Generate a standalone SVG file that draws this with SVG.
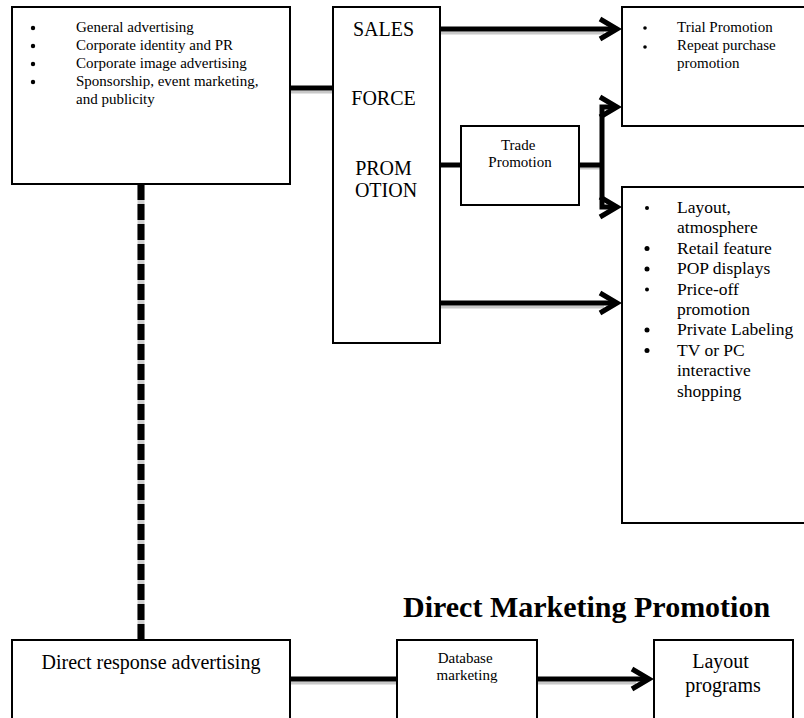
<svg xmlns="http://www.w3.org/2000/svg" width="804" height="718" viewBox="0 0 804 718">
  <style>
    .box { fill: #fff; stroke: #000; stroke-width: 2; }
    .t { font-family: "Liberation Serif", "Times New Roman", serif; fill: #000; }
    .conn { fill: none; stroke: #000; stroke-width: 5; }
    .shadow { fill: none; stroke: #c8c8c8; stroke-width: 3; }
    .bul { fill: #000; }
  </style>
  <defs>
    <marker id="chev" markerUnits="userSpaceOnUse" markerWidth="30" markerHeight="30" viewBox="-24 -15 30 30" refX="0" refY="0" orient="auto" overflow="visible">
      <path d="M-17,-10 L0,0 L-17,10" fill="none" stroke="#000" stroke-width="5" stroke-linejoin="miter"/>
    </marker>
  </defs>
  <rect width="804" height="718" fill="#fff"/>

  <g id="connectors">
    <!-- shadows -->
    <line class="shadow" x1="290" y1="92" x2="333" y2="92"/>
    <line class="shadow" x1="440" y1="33" x2="604" y2="33"/>
    <line class="shadow" x1="440" y1="307" x2="604" y2="307"/>
    <line class="shadow" x1="290" y1="683" x2="397" y2="683"/>
    <line class="shadow" x1="537" y1="683" x2="636" y2="683"/>
    <line class="shadow" x1="579" y1="168" x2="600" y2="168"/>
    <!-- top-left to sales force -->
    <line class="conn" x1="290" y1="88" x2="334" y2="88"/>
    <!-- sales arrow -->
    <line class="conn" x1="440" y1="29" x2="617" y2="29" marker-end="url(#chev)"/>
    <!-- bottom arrow -->
    <line class="conn" x1="440" y1="303" x2="617" y2="303" marker-end="url(#chev)"/>
    <!-- promotion to trade -->
    <line class="conn" x1="440" y1="165" x2="461" y2="165"/>
    <!-- trade to branch -->
    <line class="conn" x1="579" y1="165" x2="602" y2="165" stroke-width="3"/>
    <path class="conn" d="M602,165 L602,107 L617,107" stroke-width="4" marker-end="url(#chev)"/>
    <path class="conn" d="M602,165 L602,207 L617,207" stroke-width="4" marker-end="url(#chev)"/>
    <!-- dashed vertical -->
    <line x1="141" y1="184" x2="141" y2="640" stroke="#d0d0d0" stroke-width="7"/>
    <line x1="141" y1="184" x2="141" y2="640" stroke="#000" stroke-width="7" stroke-dasharray="16 4"/>
    <!-- bottom row -->
    <line class="conn" x1="290" y1="679" x2="397" y2="679"/>
    <line class="conn" x1="537" y1="679" x2="649" y2="679" marker-end="url(#chev)"/>
  </g>

  <g id="node-general">
    <rect class="box" x="12" y="7" width="278" height="177"/>
    <circle class="bul" cx="33" cy="28" r="2.2"/>
    <circle class="bul" cx="33" cy="46" r="2.2"/>
    <circle class="bul" cx="33" cy="64" r="2.2"/>
    <circle class="bul" cx="33" cy="82" r="2.2"/>
    <text class="t" font-size="15">
      <tspan x="76" y="32">General advertising</tspan>
      <tspan x="76" y="50">Corporate identity and PR</tspan>
      <tspan x="76" y="68">Corporate image advertising</tspan>
      <tspan x="76" y="86">Sponsorship, event marketing,</tspan>
      <tspan x="76" y="104">and publicity</tspan>
    </text>
  </g>

  <g id="node-salesforce">
    <rect class="box" x="333" y="7" width="107" height="336"/>
    <text class="t" font-size="20" text-anchor="middle">
      <tspan x="386" y="36">SALES</tspan>
      <tspan x="386" y="105">FORCE</tspan>
      <tspan x="386" y="175">PROM</tspan>
      <tspan x="386" y="197">OTION</tspan>
    </text>
  </g>

  <g id="node-trade">
    <rect class="box" x="461" y="126" width="118" height="79"/>
    <text class="t" font-size="15" text-anchor="middle">
      <tspan x="520" y="150">Trade</tspan>
      <tspan x="520" y="167">Promotion</tspan>
    </text>
  </g>

  <g id="node-consumer">
    <rect class="box" x="622" y="7" width="200" height="119"/>
    <circle class="bul" cx="645" cy="28" r="1.8"/>
    <circle class="bul" cx="645" cy="47" r="1.8"/>
    <text class="t" font-size="15">
      <tspan x="677" y="32">Trial Promotion</tspan>
      <tspan x="677" y="50">Repeat purchase</tspan>
      <tspan x="677" y="68">promotion</tspan>
    </text>
  </g>

  <g id="node-retail">
    <rect class="box" x="622" y="187" width="200" height="336"/>
    <circle class="bul" cx="647" cy="208" r="2"/>
    <circle class="bul" cx="647" cy="248.5" r="2.5"/>
    <circle class="bul" cx="647" cy="269" r="2.5"/>
    <circle class="bul" cx="647" cy="289.5" r="2"/>
    <circle class="bul" cx="647" cy="330" r="2.5"/>
    <circle class="bul" cx="647" cy="350.5" r="2.5"/>
    <text class="t" font-size="17.5">
      <tspan x="677" y="213">Layout,</tspan>
      <tspan x="677" y="233.4">atmosphere</tspan>
      <tspan x="677" y="253.8">Retail feature</tspan>
      <tspan x="677" y="274.2">POP displays</tspan>
      <tspan x="677" y="294.6">Price-off</tspan>
      <tspan x="677" y="315">promotion</tspan>
      <tspan x="677" y="335.4">Private Labeling</tspan>
      <tspan x="677" y="355.8">TV or PC</tspan>
      <tspan x="677" y="376.2">interactive</tspan>
      <tspan x="677" y="396.6">shopping</tspan>
    </text>
  </g>

  <g id="title-direct">
    <text class="t" x="403" y="617" font-size="30" font-weight="bold">Direct Marketing Promotion</text>
  </g>

  <g id="node-direct-response">
    <rect class="box" x="12" y="640" width="278" height="90"/>
    <text class="t" x="151" y="669" font-size="20" text-anchor="middle">Direct response advertising</text>
  </g>

  <g id="node-database">
    <rect class="box" x="397" y="640" width="140" height="90"/>
    <text class="t" font-size="15" text-anchor="middle">
      <tspan x="467" y="663">Database</tspan>
      <tspan x="467" y="680">marketing</tspan>
    </text>
  </g>

  <g id="node-layout">
    <rect class="box" x="654" y="640" width="139" height="90"/>
    <text class="t" font-size="20" text-anchor="middle">
      <tspan x="723" y="668">Layout</tspan>
      <tspan x="723" y="692">programs</tspan>
    </text>
  </g>
</svg>
